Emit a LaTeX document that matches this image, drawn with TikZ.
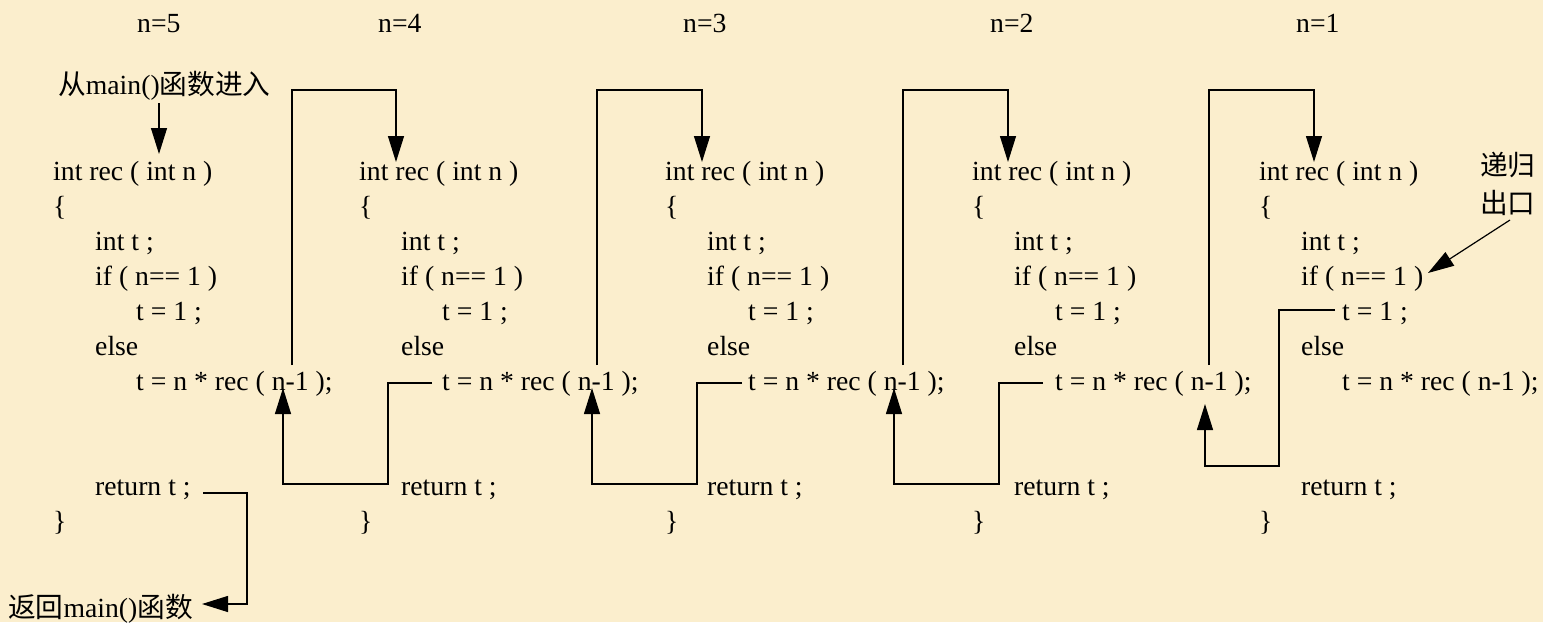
\documentclass[tikz,border=0pt]{standalone}
\usepackage{fontspec}
\setmainfont{Liberation Serif}
\newfontfamily\cjk{Noto Sans CJK SC}
\usetikzlibrary{arrows.meta}
\definecolor{parchment}{RGB}{251,238,205}

% one activation of rec(): #1 = name prefix, #2 = left edge
\newcommand\reccolumn[2]{%
  \node[txt] (#1sig)  at (#2, 180)       {int rec ( int n )};
  \node[txt] (#1open) at (#2, 215)       {\{};
  \node[txt] (#1decl) at ({#2+42}, 250)  {int t ;};
  \node[txt] (#1if)   at ({#2+42}, 285)  {if ( n== 1 )};
  \node[txt] (#1base) at ({#2+83}, 320)  {t = 1 ;};
  \node[txt] (#1else) at ({#2+42}, 355)  {else};
  \node[txt] (#1call) at ({#2+83}, 390)  {t = n * rec ( n-1 );};
  \node[txt] (#1ret)  at ({#2+42}, 495)  {return t ;};
  \node[txt] (#1close) at (#2, 530)      {\}};
}

\begin{document}
\begin{tikzpicture}[x=1pt,y=-1pt,
  txt/.style={inner sep=0pt, anchor=base west, font=\fontsize{27.7}{35}\selectfont},
  wire/.style={line width=1.2pt, line join=miter},
  link/.style={wire, -{Triangle[length=26pt,width=16pt]}},
]
\fill[parchment] (0,0) rectangle (1543,622);
\useasboundingbox (0,0) rectangle (1543,622);

% level labels
\node[txt] (n5) at (137, 32) {n=5};
\node[txt] (n4) at (378, 32) {n=4};
\node[txt] (n3) at (683, 32) {n=3};
\node[txt] (n2) at (990, 32) {n=2};
\node[txt] (n1) at (1296, 32) {n=1};

% the five activations
\reccolumn{a}{53}
\reccolumn{b}{359}
\reccolumn{c}{665}
\reccolumn{d}{972}
\reccolumn{e}{1259}

% entry from main()
\node[txt] (enter) at (58, 94) {{\cjk 从}main(){\cjk 函数进入}};
\coordinate (enterA) at (159, 103);
\coordinate (enterB) at (159, 154);
\draw[link] (enterA) -- (enterB);

% recursive calls going down
\foreach \s/\e/\i in {292/396/1, 597/702/2, 903/1008/3, 1209/1314/4} {
  \coordinate (call\i s) at (\s, 365);
  \coordinate (call\i e) at (\e, 162);
  \draw[link] (call\i s) -- (\s, 90) -- (\e, 90) -- (call\i e);
}

% returns climbing back up
\foreach \a/\b/\c/\i in {432/388/283/1, 742/697/592/2, 1043/999/894/3} {
  \coordinate (back\i s) at (\a, 383);
  \coordinate (back\i e) at (\c, 388);
  \draw[link] (back\i s) -- (\b, 383) -- (\b, 484) -- (\c, 484) -- (back\i e);
}
\coordinate (back4s) at (1335, 310);
\coordinate (back4e) at (1205, 404);
\draw[link] (back4s) -- (1279, 310) -- (1279, 466) -- (1205, 466) -- (back4e);

% back to main()
\node[txt] (leave) at (8, 617) {{\cjk 返回}main(){\cjk 函数}};
\coordinate (leaveA) at (203, 493);
\coordinate (leaveB) at (202, 604);
\draw[link] (leaveA) -- (247, 493) -- (247, 604) -- (leaveB);

% base case note
\node[txt, font=\fontsize{27.7}{38}\cjk] (exitnote) at (1480, 175) {递归};
\node[txt, font=\fontsize{27.7}{38}\cjk] (exitnote2) at (1480, 213) {出口};
\coordinate (exitA) at (1510, 220);
\coordinate (exitB) at (1428, 273);
\draw[link] (exitA) -- (exitB);
\end{tikzpicture}
\end{document}
